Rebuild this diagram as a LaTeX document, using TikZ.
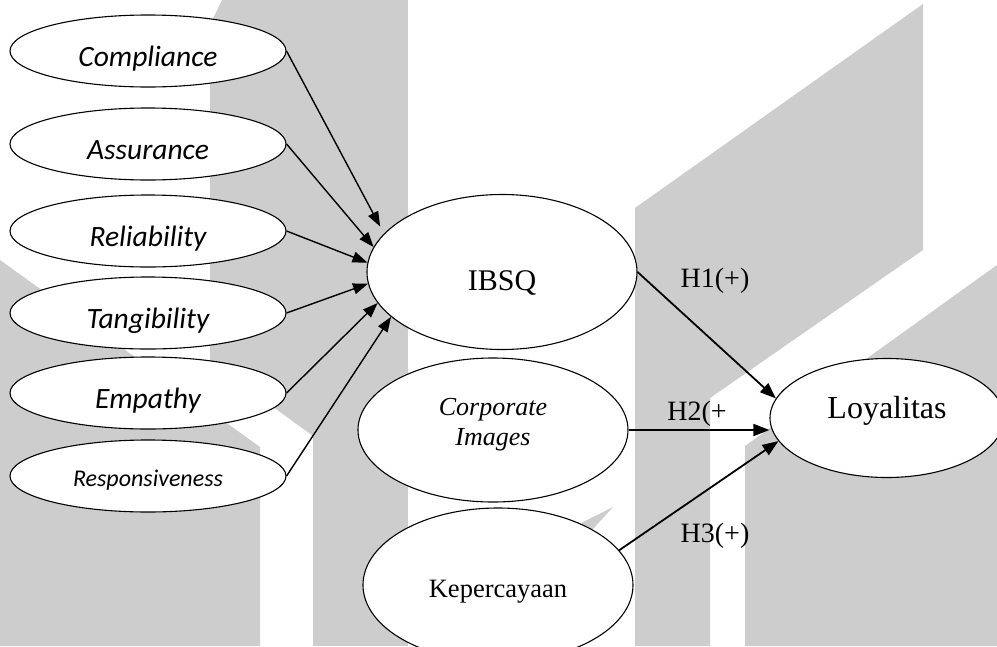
\documentclass[tikz,border=0pt]{standalone}
\usepackage{fontspec}
\setmainfont{Liberation Serif}
\newfontfamily\calibrifont{Carlito}
\usetikzlibrary{shapes.geometric,arrows.meta}
\definecolor{wmgrey}{RGB}{205,205,205}

\begin{document}
\begin{tikzpicture}[x=1pt,y=-1pt,
  dim/.style={ellipse,draw,line width=1.1pt,fill=white,inner sep=0pt,
    minimum width=276pt,minimum height=72pt,text height=30pt,text depth=0pt,
    font=\calibrifont\itshape\fontsize{29.5}{30}\selectfont},
  var/.style={ellipse,draw,line width=1.1pt,fill=white,inner sep=0pt,
    minimum width=270pt,font=\fontsize{27}{30}\selectfont},
  hyp/.style={inner sep=0pt,font=\fontsize{28}{30}\selectfont},
  arr/.style={-{Triangle[length=15pt,width=11pt]},line width=1.4pt},
  harr/.style={-{Triangle[length=16pt,width=12pt]},line width=1.8pt}]

\useasboundingbox (0,0) rectangle (997,646);
\fill[white] (0,0) rectangle (997,646);

% background blocks
\fill[wmgrey] (0,260) -- (260,447) -- (260,646) -- (0,646) -- cycle;
\fill[wmgrey] (222,0) -- (313,0) -- (313,436) -- (210,361) -- (210,25) -- cycle;
\fill[wmgrey] (313,0) rectangle (408,646);
\fill[wmgrey] (635,208) -- (923,4) -- (923,250) -- (710,398) -- (710,646) -- (635,646) -- cycle;
\fill[wmgrey] (745,446) -- (997,265) -- (997,646) -- (745,646) -- cycle;
\fill[wmgrey] (613,507) -- (581,523) -- (592,530) -- cycle;

\node[dim] (comp) at (148,51) {Compliance};
\node[dim] (assu) at (148,144) {Assurance};
\node[dim] (reli) at (148,231) {Reliability};
\node[dim] (tang) at (148,313) {Tangibility};
\node[dim] (empa) at (148,393) {Empathy};
\node[dim,text height=20pt,font=\calibrifont\itshape\fontsize{24}{25}\selectfont] (resp) at (148,476) {Responsiveness};

\node[var,minimum height=155pt,text height=36pt,text depth=0pt,font=\fontsize{30}{30}\selectfont] (ibsq) at (502,272) {IBSQ};
\node[var,minimum height=144pt,align=center,text height=30pt,text depth=0pt,font=\itshape\fontsize{26}{30}\selectfont] (corp) at (493,430) {Corporate\\Images};
\node[var,minimum height=154pt,text height=24pt,text depth=0pt,font=\fontsize{26.5}{30}\selectfont] (kep) at (498,585) {Kepercayaan};
\node[var,minimum width=234pt,minimum height=119pt,text height=0pt,text depth=0pt,font=\fontsize{32}{34}\selectfont] (loyal) at (887,418) {Loyalitas};

\draw[arr,shorten >=8pt] (comp.east) -- (ibsq.162);
\draw[arr] (assu.east) -- (ibsq.169);
\draw[arr] (reli.east) -- (ibsq.176);
\draw[arr] (tang.east) -- (ibsq.185);
\draw[arr] (empa.east) -- (ibsq.194);
\draw[arr] (resp.east) -- (ibsq.202);

\draw[harr] (ibsq.east) -- (loyal.170);
\draw[harr] (corp.east) -- (corp.east -| loyal.west);
\draw[harr] (kep.16) -- (loyal.192);

\node[hyp] (h1) at (715,281) {H1(+)};
\node[hyp] (h2) at (697,414) {H2(+};
\node[hyp] (h3) at (715,536) {H3(+)};

\end{tikzpicture}
\end{document}
